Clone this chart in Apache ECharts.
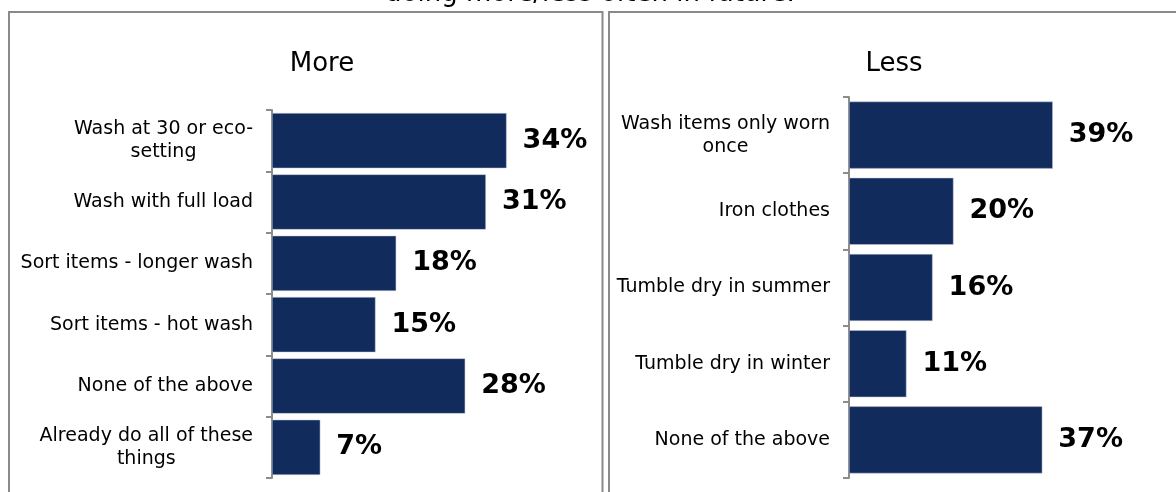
<!DOCTYPE html>
<html>
<head>
<meta charset="utf-8">
<script src="https://cdn.jsdelivr.net/npm/echarts@6/dist/echarts.min.js"></script>
<style>
  html, body { margin: 0; padding: 0; background: #fff; }
  #chart { width: 1176px; height: 492px; }
</style>
</head>
<body>
<div id="chart"></div>
<script>
// Actions people say they will do more often in future
const moreCategories = [
  'Wash at 30 or eco-\nsetting',
  'Wash with full load',
  'Sort items - longer wash',
  'Sort items - hot wash',
  'None of the above',
  'Already do all of these\nthings'
];
const moreValues = [34, 31, 18, 15, 28, 7];

// Actions people say they will do less often in future
const lessCategories = [
  'Wash items only worn\nonce',
  'Iron clothes',
  'Tumble dry in summer',
  'Tumble dry in winter',
  'None of the above'
];
const lessValues = [39, 20, 16, 11, 37];

const chartTitle = 'doing more/less often in future.';
const panelTitles = ['More', 'Less'];

const FONT = '"DejaVu Sans", Verdana, sans-serif';
const BAR = '#112b5c';
const AXIS = '#8c8c8c';

function catAxis(gridIndex, data) {
  return {
    type: 'category',
    gridIndex: gridIndex,
    data: data,
    inverse: true,
    axisLine: { show: true, lineStyle: { color: AXIS, width: 2 } },
    axisTick: { show: true, length: 6, lineStyle: { color: AXIS, width: 2 } },
    axisLabel: {
      margin: 19,
      formatter: v => v.split('\n').map(s => '{c|' + s + '}').join('\n'),
      rich: {
        c: { align: 'center', fontFamily: FONT, fontSize: 19, lineHeight: 23, color: '#000' }
      }
    }
  };
}

function valAxis(gridIndex) {
  return {
    type: 'value',
    gridIndex: gridIndex,
    min: 0,
    max: 40,
    show: false,
    splitLine: { show: false }
  };
}

function barSeries(idx, values, gap) {
  return {
    type: 'bar',
    xAxisIndex: idx,
    yAxisIndex: idx,
    data: values,
    barCategoryGap: gap,
    itemStyle: { color: BAR, borderColor: '#c5cbd8', borderWidth: 0.5 },
    label: {
      show: true,
      position: 'right',
      distance: 16,
      formatter: '{c}%',
      fontFamily: FONT,
      fontWeight: 'bold',
      fontSize: 27,
      color: '#000'
    },
    silent: true
  };
}

const chart = echarts.init(document.getElementById('chart'), null, { renderer: 'canvas' });

chart.setOption({
  animation: false,
  backgroundColor: '#fff',
  grid: [
    { left: 272, top: 110, width: 276, height: 368 },
    { left: 849, top: 97, width: 209, height: 381 }
  ],
  xAxis: [valAxis(0), valAxis(1)],
  yAxis: [catAxis(0, moreCategories), catAxis(1, lessCategories)],
  series: [
    barSeries(0, moreValues, '10%'),
    barSeries(1, lessValues, '12%')
  ],
  graphic: [
    // panel frames
    { type: 'rect', shape: { x: 9, y: 12, width: 593.5, height: 500 },
      style: { fill: 'none', stroke: '#8a8a8a', lineWidth: 2 }, z: -1 },
    { type: 'rect', shape: { x: 609, y: 12, width: 600, height: 500 },
      style: { fill: 'none', stroke: '#8a8a8a', lineWidth: 2 }, z: -1 },
    // overall heading (runs off the top edge)
    { type: 'text', x: 590, y: -6,
      style: { text: chartTitle, fontFamily: FONT, fontSize: 26, fill: '#000',
               align: 'center', verticalAlign: 'middle' } },
    // panel headings
    { type: 'text', x: 322, y: 64,
      style: { text: panelTitles[0], fontFamily: FONT, fontSize: 26, fill: '#000',
               align: 'center', verticalAlign: 'middle' } },
    { type: 'text', x: 894, y: 64,
      style: { text: panelTitles[1], fontFamily: FONT, fontSize: 26, fill: '#000',
               align: 'center', verticalAlign: 'middle' } }
  ]
});
</script>
</body>
</html>
